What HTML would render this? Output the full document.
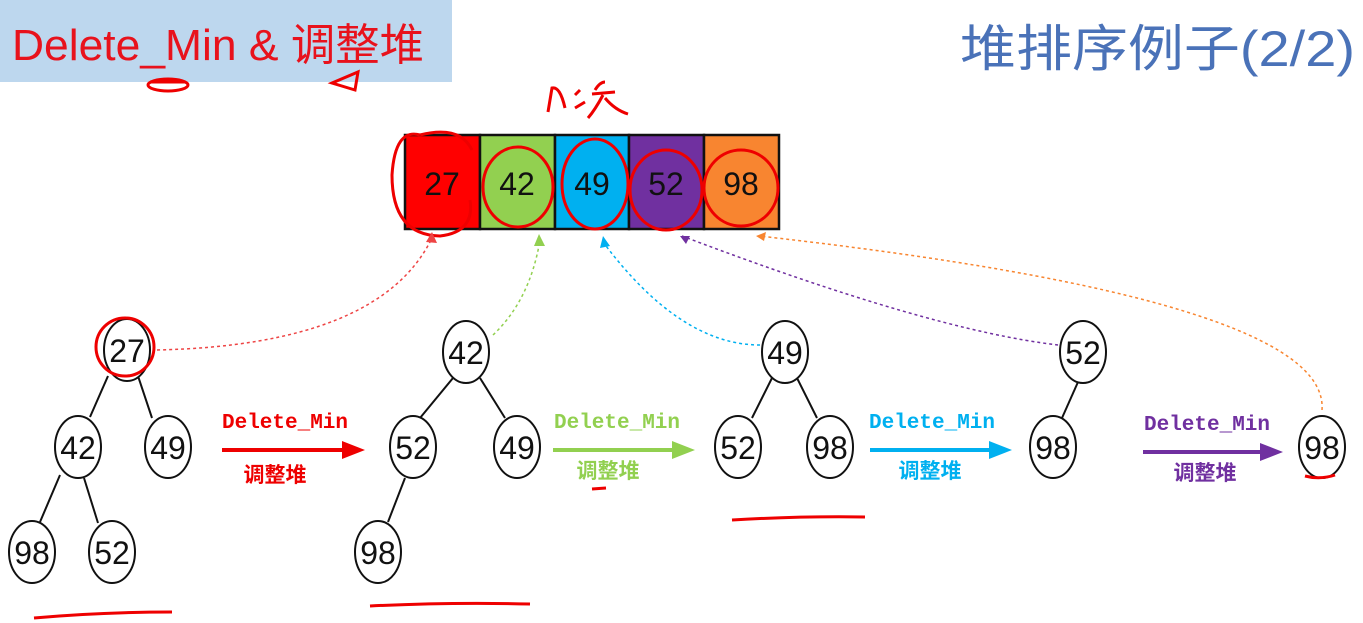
<!DOCTYPE html>
<html><head><meta charset="utf-8"><style>
html,body{margin:0;padding:0;background:#fff;}
svg{display:block}
.n{font-family:"Liberation Sans Narrow","Liberation Sans",sans-serif;font-size:32px;text-anchor:middle;}
.l{font-family:"Liberation Mono",monospace;font-size:21px;text-anchor:middle;font-weight:bold}
.c{font-family:"Liberation Sans","Noto Sans CJK SC",sans-serif;font-size:21px;text-anchor:middle;font-weight:bold}
</style></head><body>
<svg width="1363" height="623" viewBox="0 0 1363 623" xmlns="http://www.w3.org/2000/svg">
<rect x="0" y="0" width="452" height="82" fill="#bdd7ee"/>
<text x="12" y="60" font-family="Liberation Sans,Noto Sans CJK SC,sans-serif" font-size="44" fill="#e8121c" textLength="412" lengthAdjust="spacingAndGlyphs">Delete_Min &amp; 调整堆</text>
<text x="960" y="66" font-family="Liberation Sans,Noto Sans CJK SC,sans-serif" font-size="50" fill="#4a72b8" textLength="395" lengthAdjust="spacingAndGlyphs">堆排序例子(2/2)</text>
<g fill="none" stroke="#e00" stroke-width="3">
<ellipse cx="168" cy="85" rx="20" ry="6"/><path d="M150 82 L185 82"/>
<path d="M332 83 L358 72 L355 90 Z"/>
<path d="M548 112 L552 88 Q560 86 565 108 M575 95 L580 90 M575 108 L585 102 M595 90 Q600 82 605 82 M592 94 L615 92 M603 95 Q595 110 588 118 M605 98 Q615 110 628 114"/>
</g>
<g stroke="#111" stroke-width="2.5">
<rect x="405" y="135" width="75" height="94" fill="#ff0000"/>
<rect x="480" y="135" width="75" height="94" fill="#92d050"/>
<rect x="555" y="135" width="74" height="94" fill="#00b0f0"/>
<rect x="629" y="135" width="75" height="94" fill="#7030a0"/>
<rect x="704" y="135" width="75" height="94" fill="#f88530"/>
</g>
<g class="n" fill="#111">
<text x="442" y="195">27</text><text x="517" y="195">42</text><text x="592" y="195">49</text><text x="666" y="195">52</text><text x="741" y="195">98</text>
</g>
<g fill="none" stroke="#e00" stroke-width="3">
<path d="M420 135 Q395 128 392 175 Q392 235 440 236 Q475 232 470 200 M420 135 Q460 125 472 150"/>
<ellipse cx="518" cy="187" rx="35" ry="40"/>
<ellipse cx="595" cy="184" rx="33" ry="45"/>
<ellipse cx="666" cy="190" rx="36" ry="40"/>
<ellipse cx="741" cy="188" rx="37" ry="38"/>
</g>
<g fill="none" stroke-width="1.5" stroke-dasharray="3,3">
<path d="M157 350 Q380 345 432 238" stroke="#e44"/>
<path d="M493 335 Q530 300 540 240" stroke="#92d050"/>
<path d="M760 345 Q680 345 603 242" stroke="#00b0f0"/>
<path d="M1058 345 Q930 330 682 236" stroke="#7030a0"/>
<path d="M1322 410 Q1330 300 759 236" stroke="#f88530"/>
</g>
<path d="M426 242 L432 232 L437 243Z" fill="#e44"/>
<path d="M534 246 L539 234 L545 246Z" fill="#92d050"/>
<path d="M600 248 L603 236 L610 246Z" fill="#00b0f0"/>
<path d="M680 236 L690 236 L686 244Z" fill="#7030a0"/>
<path d="M756 236 L766 232 L764 241Z" fill="#f88530"/>
<g stroke="#111" stroke-width="2">
<line x1="108" y1="376" x2="90" y2="417"/><line x1="138" y1="376" x2="152" y2="418"/>
<line x1="60" y1="475" x2="40" y2="522"/><line x1="84" y1="478" x2="98" y2="523"/>
<line x1="453" y1="378" x2="420" y2="418"/><line x1="480" y1="378" x2="505" y2="418"/>
<line x1="405" y1="478" x2="388" y2="522"/>
<line x1="772" y1="378" x2="752" y2="418"/><line x1="797" y1="378" x2="817" y2="418"/>
<line x1="1078" y1="382" x2="1062" y2="418"/>
</g>
<g fill="#fff" stroke="#111" stroke-width="2">
<ellipse cx="127" cy="350" rx="23" ry="31"/><ellipse cx="78" cy="447" rx="23" ry="31"/><ellipse cx="168" cy="447" rx="23" ry="31"/><ellipse cx="32" cy="552" rx="23" ry="31"/><ellipse cx="112" cy="552" rx="23" ry="31"/>
<ellipse cx="466" cy="352" rx="23" ry="31"/><ellipse cx="413" cy="447" rx="23" ry="31"/><ellipse cx="517" cy="447" rx="23" ry="31"/><ellipse cx="378" cy="552" rx="23" ry="31"/>
<ellipse cx="785" cy="352" rx="23" ry="31"/><ellipse cx="738" cy="447" rx="23" ry="31"/><ellipse cx="830" cy="447" rx="23" ry="31"/>
<ellipse cx="1083" cy="352" rx="23" ry="31"/><ellipse cx="1053" cy="447" rx="23" ry="31"/>
<ellipse cx="1322" cy="447" rx="23" ry="31"/>
</g>
<g class="n" fill="#111">
<text x="127" y="362">27</text><text x="78" y="459">42</text><text x="168" y="459">49</text><text x="32" y="564">98</text><text x="112" y="564">52</text>
<text x="466" y="364">42</text><text x="413" y="459">52</text><text x="517" y="459">49</text><text x="378" y="564">98</text>
<text x="785" y="364">49</text><text x="738" y="459">52</text><text x="830" y="459">98</text>
<text x="1083" y="364">52</text><text x="1053" y="459">98</text>
<text x="1322" y="459">98</text>
</g>
<g fill="none" stroke="#e00" stroke-width="3">
<ellipse cx="125" cy="347" rx="29" ry="29"/>
<path d="M34 618 Q100 612 172 612"/><path d="M370 606 Q450 602 530 604"/><path d="M732 520 Q800 516 865 517"/><path d="M1305 476 Q1320 480 1335 475"/><path d="M592 489 L606 488"/>
</g>
<g>
<text class="l" x="285" y="428" fill="#e00">Delete_Min</text>
<line x1="222" y1="450" x2="345" y2="450" stroke="#e00" stroke-width="4"/><path d="M342 441 L365 450 L342 459Z" fill="#e00"/>
<text class="c" x="275" y="482" fill="#e00">调整堆</text>
<text class="l" x="617" y="428" fill="#92d050">Delete_Min</text>
<line x1="553" y1="450" x2="675" y2="450" stroke="#92d050" stroke-width="4"/><path d="M672 441 L695 450 L672 459Z" fill="#92d050"/>
<text class="c" x="608" y="478" fill="#92d050">调整堆</text>
<text class="l" x="932" y="428" fill="#00b0f0">Delete_Min</text>
<line x1="870" y1="450" x2="992" y2="450" stroke="#00b0f0" stroke-width="4"/><path d="M989 441 L1012 450 L989 459Z" fill="#00b0f0"/>
<text class="c" x="930" y="478" fill="#00b0f0">调整堆</text>
<text class="l" x="1207" y="430" fill="#7030a0">Delete_Min</text>
<line x1="1143" y1="452" x2="1263" y2="452" stroke="#7030a0" stroke-width="4"/><path d="M1260 443 L1283 452 L1260 461Z" fill="#7030a0"/>
<text class="c" x="1205" y="480" fill="#7030a0">调整堆</text>
</g>
</svg>
</body></html>
